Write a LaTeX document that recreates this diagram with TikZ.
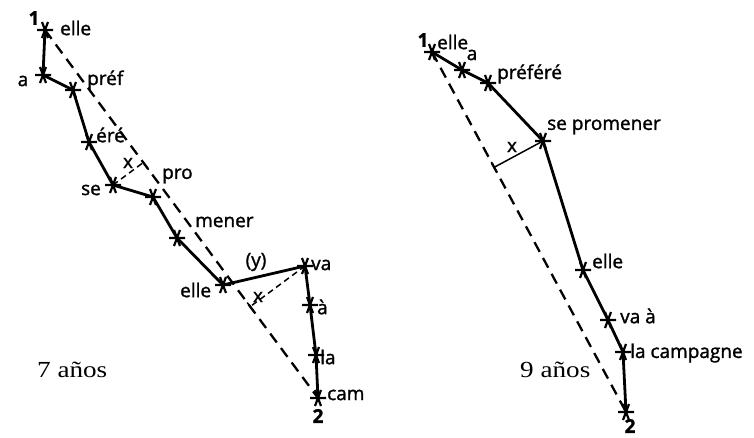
\documentclass[tikz,border=0pt]{standalone}
\usepackage{fontspec}
\newfontfamily\lblfont{Open Sans}[FakeBold=1.4]
\newfontfamily\serifyr{Liberation Serif}[FakeStretch=1.18]
\usetikzlibrary{calc}
\begin{document}
\begin{tikzpicture}[x=1pt,y=-1pt,
  solidpath/.style={line width=2.8pt,line join=round},
  dashpath/.style={line width=2.3pt,dash pattern=on 11pt off 7pt},
  perpdash/.style={line width=1.5pt,dash pattern=on 6pt off 4pt},
  perpsolid/.style={line width=1.5pt},
  lbl/.style={font=\lblfont\fontsize{19}{19}\selectfont,inner sep=0pt},
  numlbl/.style={font=\lblfont\bfseries\fontsize{19}{19}\selectfont,inner sep=0pt},
  agelbl/.style={font=\serifyr\fontsize{23}{23}\selectfont,inner sep=0pt},
  astk/.pic={\draw[line width=2.2pt] (-8,0)--(8,0) (-3,-8)--(3,8) (3,-8)--(-3,8);}
]
\useasboundingbox (0,0) rectangle (754,437);
% ---------- left diagram (7 anos)
\coordinate (L1) at (45,30);
\coordinate (La) at (43,75);
\coordinate (Lpref) at (73,90);
\coordinate (Lere) at (89,142);
\coordinate (Lse) at (113,185);
\coordinate (Lpro) at (153,197);
\coordinate (Lmen) at (177,238);
\coordinate (Lelle) at (223,285);
\coordinate (Lva) at (305,266);
\coordinate (Lad) at (310,305);
\coordinate (Lla) at (316,355);
\coordinate (Lcam) at (318,398);
\draw[dashpath] (L1) -- (Lcam);
\draw[solidpath] (L1) -- (La) -- (Lpref) -- (Lere) -- (Lse) -- (Lpro) -- (Lmen) -- (Lelle) -- (Lva) -- (Lad) -- (Lla) -- (Lcam);
\coordinate (Lf1) at ($(L1)!(Lse)!(Lcam)$);
\coordinate (Lf2) at ($(L1)!(Lva)!(Lcam)$);
\draw[perpdash] (Lse) -- (Lf1);
\draw[perpsolid] (Lf1) -- ($(Lf1)!9pt!(Lcam)$);
\draw[perpdash] (Lva) -- (Lf2);
\draw[perpsolid] ($(Lf2)!5pt!(L1)$) -- ($(Lf2)!5pt!(Lcam)$);
\foreach \p in {L1,La,Lpref,Lere,Lse,Lpro,Lmen,Lelle,Lva,Lad,Lla,Lcam} \pic at (\p) {astk};
\node[numlbl] (n1L) at (34,18) {1};
\node[lbl,anchor=west] (tL1) at (60,28) {elle};
\node[lbl] (tLa) at (23,81) {a};
\node[lbl,anchor=west] (tLpref) at (87,80) {préf};
\node[lbl,anchor=west] (tLere) at (96,135) {éré};
\node[lbl] (tLse) at (91,190) {se};
\node[lbl,anchor=west] (tLpro) at (162,176) {pro};
\node[lbl,anchor=west] (tLmen) at (195,222) {mener};
\node[lbl,anchor=west] (tLelle) at (180,290) {elle};
\node[lbl,anchor=west] (tLva) at (311,265) {va};
\node[lbl,anchor=west] (tLad) at (317,307) {à};
\node[lbl,anchor=west] (tLla) at (320,357) {la};
\node[lbl,anchor=west] (tLcam) at (327,395) {cam};
\node[numlbl] (n2L) at (318,416) {2};
\node[lbl] (tLy) at (256,262) {(y)};
\node[lbl] (tLx1) at (128,163) {x};
\node[lbl] (tLx2) at (258,297) {x};
\node[agelbl,anchor=west] (age7) at (37,370) {7 años};
% ---------- right diagram (9 anos)
\coordinate (R1) at (432,52);
\coordinate (Ra) at (462,70);
\coordinate (Rpref) at (488,83);
\coordinate (Rse) at (543,141);
\coordinate (Relle) at (583,270);
\coordinate (Rva) at (608,320);
\coordinate (Rla) at (623,352);
\coordinate (R2) at (626,412);
\draw[dashpath] (R1) -- (R2);
\draw[solidpath] (R1) -- (Ra) -- (Rpref) -- (Rse) -- (Relle) -- (Rva) -- (Rla) -- (R2);
\coordinate (Rf) at ($(R1)!(Rse)!(R2)$);
\draw[perpsolid] (Rse) -- (Rf);
\draw[perpsolid] ($(Rf)!6pt!(R1)$) -- ($(Rf)!6pt!(R2)$);
\foreach \p in {R1,Ra,Rpref,Rse,Relle,Rva,Rla,R2} \pic at (\p) {astk};
\node[numlbl] (n1R) at (423,40) {1};
\node[lbl,anchor=west] (tR1) at (437,42) {elle};
\node[lbl] (tRa) at (472,55) {a};
\node[lbl,anchor=west] (tRpref) at (497,74) {préféré};
\node[lbl,anchor=west] (tRse) at (547,127) {se promener};
\node[lbl,anchor=west] (tRelle) at (592,261) {elle};
\node[lbl,anchor=west] (tRva) at (620,316) {va à};
\node[lbl,anchor=west] (tRla) at (630,353) {la campagne};
\node[numlbl] (n2R) at (630,426) {2};
\node[lbl] (tRx) at (512,147) {x};
\node[agelbl,anchor=west] (age9) at (520,370) {9 años};
\end{tikzpicture}
\end{document}
